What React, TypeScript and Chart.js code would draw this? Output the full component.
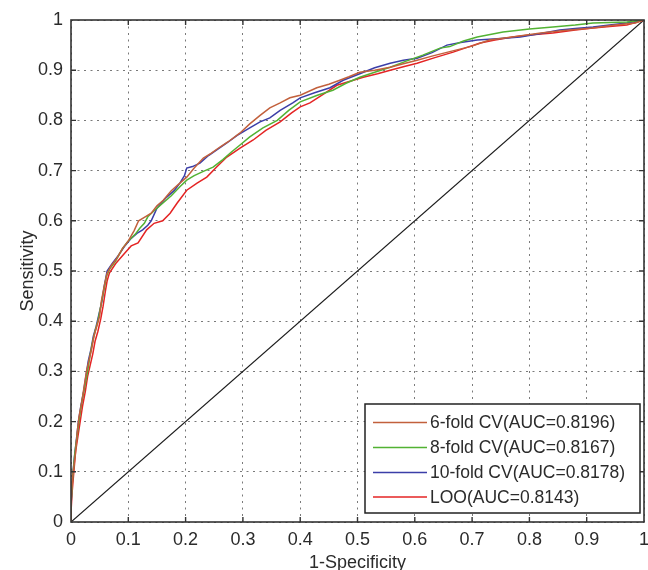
import React, { useEffect, useRef } from "react";
import { Chart, registerables } from "chart.js";

Chart.register(...registerables);

const FONT = "'Liberation Sans', Arial, Helvetica, sans-serif";
const TEXT = "#2b2b2b";

const xTickLabels = ["0", "0.1", "0.2", "0.3", "0.4", "0.5", "0.6", "0.7", "0.8", "0.9", "1"];
const yTickLabels = ["0", "0.1", "0.2", "0.3", "0.4", "0.5", "0.6", "0.7", "0.8", "0.9", "1"];
const xTitle = "1-Specificity";
const yTitle = "Sensitivity";

const seriesLabels = [
  "6-fold CV(AUC=0.8196)",
  "8-fold CV(AUC=0.8167)",
  "10-fold CV(AUC=0.8178)",
  "LOO(AUC=0.8143)",
];
const seriesColors = ["#c2603c", "#52b233", "#3b3ea8", "#e42424"];

const sixFoldFpr = [0, 0, 0.003, 0.008, 0.011, 0.014, 0.019, 0.023, 0.027, 0.031, 0.036, 0.04, 0.045, 0.05, 0.053, 0.058, 0.063, 0.07, 0.08, 0.09, 0.1, 0.11, 0.118, 0.128, 0.14, 0.15, 0.161, 0.175, 0.19, 0.202, 0.215, 0.231, 0.245, 0.26, 0.275, 0.295, 0.312, 0.33, 0.347, 0.365, 0.382, 0.4, 0.429, 0.45, 0.469, 0.485, 0.504, 0.53, 0.557, 0.58, 0.604, 0.63, 0.661, 0.7, 0.73, 0.77, 0.82, 0.86, 0.91, 0.95, 0.985, 1];
const sixFoldTpr = [0, 0.04, 0.09, 0.14, 0.18, 0.21, 0.24, 0.27, 0.3, 0.32, 0.345, 0.37, 0.39, 0.41, 0.44, 0.47, 0.495, 0.51, 0.525, 0.545, 0.56, 0.58, 0.6, 0.607, 0.615, 0.63, 0.641, 0.66, 0.675, 0.687, 0.705, 0.725, 0.735, 0.747, 0.758, 0.775, 0.793, 0.81, 0.825, 0.835, 0.845, 0.85, 0.865, 0.872, 0.88, 0.887, 0.896, 0.9, 0.906, 0.913, 0.92, 0.928, 0.937, 0.948, 0.96, 0.966, 0.974, 0.979, 0.984, 0.99, 0.994, 1];

const eightFoldFpr = [0, 0, 0.003, 0.007, 0.011, 0.015, 0.019, 0.024, 0.029, 0.033, 0.037, 0.042, 0.047, 0.052, 0.057, 0.062, 0.068, 0.078, 0.09, 0.1, 0.112, 0.12, 0.128, 0.134, 0.145, 0.16, 0.175, 0.19, 0.202, 0.215, 0.23, 0.248, 0.265, 0.28, 0.295, 0.312, 0.335, 0.36, 0.38, 0.4, 0.43, 0.457, 0.48, 0.504, 0.53, 0.557, 0.585, 0.614, 0.644, 0.661, 0.685, 0.709, 0.754, 0.8, 0.841, 0.88, 0.911, 0.97, 1];
const eightFoldTpr = [0, 0.035, 0.09, 0.14, 0.175, 0.21, 0.24, 0.27, 0.3, 0.33, 0.355, 0.38, 0.4, 0.43, 0.46, 0.49, 0.505, 0.52, 0.545, 0.56, 0.573, 0.585, 0.595, 0.608, 0.62, 0.635, 0.65, 0.668, 0.681, 0.69, 0.698, 0.707, 0.722, 0.737, 0.751, 0.767, 0.785, 0.8, 0.82, 0.837, 0.85, 0.86, 0.874, 0.886, 0.896, 0.906, 0.918, 0.93, 0.944, 0.947, 0.958, 0.966, 0.976, 0.982, 0.986, 0.99, 0.994, 0.996, 1];

const tenFoldFpr = [0, 0, 0.002, 0.006, 0.01, 0.013, 0.017, 0.022, 0.026, 0.03, 0.035, 0.039, 0.044, 0.049, 0.054, 0.058, 0.063, 0.072, 0.082, 0.094, 0.105, 0.115, 0.125, 0.134, 0.14, 0.15, 0.165, 0.18, 0.19, 0.198, 0.202, 0.212, 0.225, 0.24, 0.255, 0.272, 0.29, 0.312, 0.33, 0.347, 0.365, 0.387, 0.4, 0.425, 0.452, 0.475, 0.504, 0.53, 0.557, 0.58, 0.604, 0.63, 0.656, 0.68, 0.709, 0.75, 0.784, 0.82, 0.853, 0.88, 0.911, 0.94, 0.97, 1];
const tenFoldTpr = [0, 0.03, 0.08, 0.13, 0.17, 0.2, 0.23, 0.26, 0.29, 0.32, 0.345, 0.37, 0.39, 0.415, 0.44, 0.47, 0.5, 0.515, 0.53, 0.55, 0.565, 0.575, 0.582, 0.591, 0.6, 0.625, 0.645, 0.66, 0.675, 0.69, 0.705, 0.708, 0.715, 0.73, 0.742, 0.755, 0.77, 0.785, 0.797, 0.805, 0.82, 0.835, 0.845, 0.855, 0.865, 0.88, 0.893, 0.905, 0.914, 0.92, 0.924, 0.935, 0.95, 0.955, 0.96, 0.963, 0.966, 0.973, 0.98, 0.983, 0.986, 0.99, 0.994, 1];

const looFpr = [0, 0, 0.002, 0.005, 0.008, 0.012, 0.016, 0.02, 0.025, 0.029, 0.033, 0.038, 0.042, 0.047, 0.052, 0.056, 0.06, 0.063, 0.067, 0.078, 0.094, 0.105, 0.117, 0.132, 0.145, 0.16, 0.173, 0.185, 0.202, 0.22, 0.237, 0.255, 0.272, 0.295, 0.318, 0.34, 0.365, 0.385, 0.4, 0.417, 0.44, 0.464, 0.487, 0.51, 0.535, 0.557, 0.58, 0.604, 0.635, 0.667, 0.69, 0.714, 0.74, 0.771, 0.8, 0.841, 0.88, 0.911, 0.94, 0.97, 1];
const looTpr = [0, 0.02, 0.06, 0.1, 0.14, 0.17, 0.2, 0.23, 0.26, 0.29, 0.31, 0.335, 0.36, 0.38, 0.405, 0.43, 0.46, 0.48, 0.496, 0.515, 0.536, 0.55, 0.556, 0.582, 0.595, 0.6, 0.615, 0.635, 0.661, 0.675, 0.687, 0.708, 0.727, 0.745, 0.761, 0.78, 0.797, 0.815, 0.827, 0.835, 0.852, 0.87, 0.878, 0.886, 0.893, 0.9, 0.907, 0.914, 0.925, 0.936, 0.945, 0.954, 0.96, 0.966, 0.97, 0.974, 0.98, 0.984, 0.987, 0.99, 1];

const diagFpr = [0, 1];
const diagTpr = [0, 1];

const seriesFpr = [sixFoldFpr, eightFoldFpr, tenFoldFpr, looFpr];
const seriesTpr = [sixFoldTpr, eightFoldTpr, tenFoldTpr, looTpr];

const toPoints = (xs: number[], ys: number[]) => xs.map((x, i) => ({ x, y: ys[i] }));

const decorPlugin = {
  id: "matlabDecor",
  afterDraw(chart: any) {
    const { ctx, chartArea } = chart;
    const { left, right, top, bottom } = chartArea;
    const xs = chart.scales.x;
    const ys = chart.scales.y;
    ctx.save();
    ctx.strokeStyle = "#333";
    ctx.lineWidth = 1.6;
    ctx.strokeRect(left, top, right - left, bottom - top);
    ctx.lineWidth = 1.4;
    ctx.beginPath();
    for (let i = 1; i < xTickLabels.length - 1; i++) {
      const px = xs.getPixelForValue(i / 10);
      ctx.moveTo(px, bottom);
      ctx.lineTo(px, bottom - 5);
      ctx.moveTo(px, top);
      ctx.lineTo(px, top + 5);
    }
    for (let i = 1; i < yTickLabels.length - 1; i++) {
      const py = ys.getPixelForValue(i / 10);
      ctx.moveTo(left, py);
      ctx.lineTo(left + 5, py);
      ctx.moveTo(right, py);
      ctx.lineTo(right - 5, py);
    }
    ctx.stroke();

    ctx.fillStyle = TEXT;
    ctx.font = `18px ${FONT}`;
    ctx.textAlign = "center";
    ctx.textBaseline = "middle";
    ctx.fillText(xTitle, (left + right) / 2, 563);
    ctx.save();
    ctx.translate(28, (top + bottom) / 2);
    ctx.rotate(-Math.PI / 2);
    ctx.fillText(yTitle, 0, 0);
    ctx.restore();

    const lx = 365, ly = 404, lw = 275, lh = 109;
    ctx.fillStyle = "#ffffff";
    ctx.fillRect(lx, ly, lw, lh);
    ctx.strokeStyle = "#222";
    ctx.lineWidth = 1.5;
    ctx.strokeRect(lx, ly, lw, lh);
    ctx.font = `17.5px ${FONT}`;
    ctx.textAlign = "left";
    ctx.textBaseline = "middle";
    const rows = [422.5, 447.5, 472.5, 497];
    seriesLabels.forEach((lab, i) => {
      ctx.strokeStyle = seriesColors[i];
      ctx.lineWidth = 1.5;
      ctx.beginPath();
      ctx.moveTo(373, rows[i]);
      ctx.lineTo(427, rows[i]);
      ctx.stroke();
      ctx.fillStyle = TEXT;
      ctx.fillText(lab, 430, rows[i] + 1);
    });
    ctx.restore();
  },
};

export default function App() {
  const ref = useRef<HTMLCanvasElement | null>(null);
  useEffect(() => {
    if (!ref.current) return;
    const datasets: any[] = seriesLabels.map((lab, i) => ({
      label: lab,
      data: toPoints(seriesFpr[i], seriesTpr[i]),
      borderColor: seriesColors[i],
      backgroundColor: seriesColors[i],
      borderWidth: 1.5,
      pointRadius: 0,
      showLine: true,
      tension: 0,
      fill: false,
    }));
    datasets.push({
      label: "diag",
      data: toPoints(diagFpr, diagTpr),
      borderColor: "#1a1a1a",
      backgroundColor: "#1a1a1a",
      borderWidth: 1.2,
      pointRadius: 0,
      showLine: true,
      fill: false,
    });
    const tickFont = { family: FONT, size: 18 };
    const chart = new Chart(ref.current, {
      type: "scatter",
      data: { datasets },
      options: {
        responsive: false,
        animation: false,
        devicePixelRatio: 1,
        events: [],
        layout: { padding: { left: 0, right: 4, top: 20, bottom: 0 } },
        plugins: { legend: { display: false }, tooltip: { enabled: false } },
        scales: {
          x: {
            type: "linear",
            min: 0,
            max: 1,
            ticks: {
              stepSize: 0.1,
              padding: 7,
              color: TEXT,
              font: tickFont,
              maxRotation: 0,
              autoSkip: false,
              callback: (v: any) => xTickLabels[Math.round(Number(v) * 10)],
            },
            grid: { color: "#7a7a7a", lineWidth: 1, drawTicks: false },
            border: { display: false, dash: [2, 4.5] },
            afterFit: (s: any) => {
              s.height = 48;
              s.paddingLeft = 0;
              s.paddingRight = 0;
            },
          },
          y: {
            type: "linear",
            min: 0,
            max: 1,
            ticks: {
              stepSize: 0.1,
              padding: 8,
              color: TEXT,
              font: tickFont,
              autoSkip: false,
              callback: (v: any) => yTickLabels[Math.round(Number(v) * 10)],
            },
            grid: { color: "#7a7a7a", lineWidth: 1, drawTicks: false },
            border: { display: false, dash: [2, 4.5] },
            afterFit: (s: any) => {
              s.width = 71;
              s.paddingTop = 0;
              s.paddingBottom = 0;
            },
          },
        },
      } as any,
      plugins: [decorPlugin],
    });
    return () => chart.destroy();
  }, []);
  return (
    <div style={{ position: "absolute", left: 0, top: 0, width: 648, height: 570, background: "#fff" }}>
      <canvas ref={ref} width={648} height={570} style={{ display: "block" }} />
    </div>
  );
}
